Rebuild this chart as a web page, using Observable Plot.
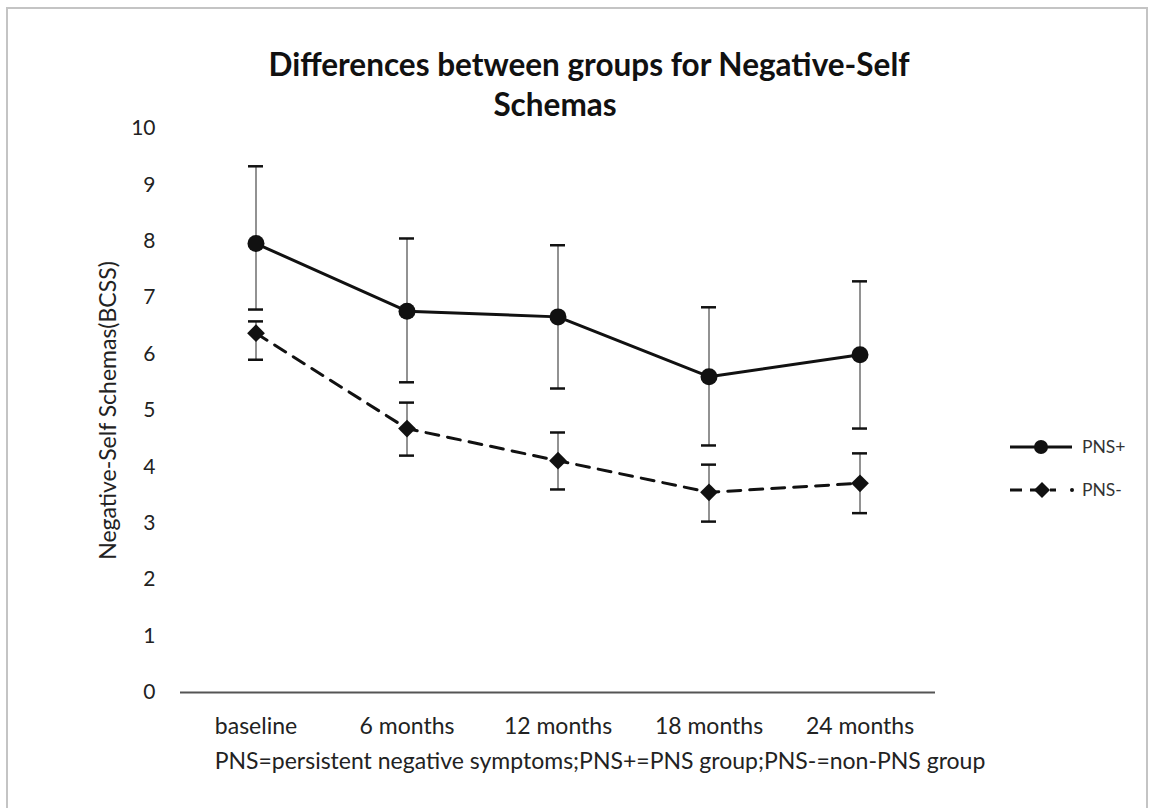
<!DOCTYPE html>
<html>
<head>
<meta charset="utf-8">
<script src="https://cdn.jsdelivr.net/npm/d3@7"></script>
<script src="https://cdn.jsdelivr.net/npm/@observablehq/plot@0.6"></script>
<style>
  html, body { margin: 0; padding: 0; background: #fff; }
  #frame { position: relative; width: 1153px; height: 808px; overflow: hidden; background: #fff; font-family: Lato, "Open Sans", sans-serif; color: #222; }
  #border { position: absolute; left: 6px; top: 7px; width: 1142px; height: 820px; border: 2px solid #c4c4c4; border-bottom: none; box-sizing: border-box; }
  #chart { position: absolute; left: 0; top: 0; }
  .title { position: absolute; font-weight: bold; font-size: 31.5px; white-space: nowrap; transform: translate(-50%, -50%); color: #111; }
  #caption { position: absolute; left: 600px; top: 760px; transform: translate(-50%, -50%); font-size: 23px; white-space: nowrap; color: #222; }
  #legend { position: absolute; left: 1008px; top: 425px; }
  #legend div { display: flex; align-items: center; height: 43px; font-size: 17.5px; color: #333; }
  #legend svg { margin-right: 6px; }
</style>
</head>
<body>
<div id="frame">
  <div id="border"></div>
  <div id="chart"></div>
  <div class="title" style="left:589px;top:64px">Differences between groups for Negative-Self</div>
  <div class="title" style="left:555px;top:104px">Schemas</div>
  <div id="caption">PNS=persistent negative symptoms;PNS+=PNS group;PNS-=non-PNS group</div>
  <div id="legend">
    <div><svg width="68" height="20"><line x1="2" y1="10" x2="64" y2="10" stroke="#111" stroke-width="3"/><circle cx="33" cy="10" r="7" fill="#111"/></svg>PNS+</div>
    <div><svg width="68" height="20"><line x1="2" y1="10" x2="48" y2="10" stroke="#111" stroke-width="3" stroke-dasharray="12,8"/><path d="M34 2 L42 10 L34 18 L26 10 Z" fill="#111"/><circle cx="64" cy="10" r="2" fill="#111"/></svg>PNS-</div>
  </div>
</div>
<script>
const timepoints = ["baseline", "6 months", "12 months", "18 months", "24 months"];
const pnsPlusMean = [7.96, 6.76, 6.66, 5.60, 5.99];
const pnsPlusLow  = [6.79, 5.50, 5.39, 4.38, 4.68];
const pnsPlusHigh = [9.33, 8.05, 7.93, 6.83, 7.29];
const pnsMinusMean = [6.37, 4.68, 4.11, 3.55, 3.71];
const pnsMinusLow  = [5.90, 4.20, 3.60, 3.03, 3.18];
const pnsMinusHigh = [6.58, 5.14, 4.61, 4.04, 4.24];
const yTicks = [0, 1, 2, 3, 4, 5, 6, 7, 8, 9, 10];

const plusData = timepoints.map((t, i) => ({t, mean: pnsPlusMean[i], low: pnsPlusLow[i], high: pnsPlusHigh[i]}));
const minusData = timepoints.map((t, i) => ({t, mean: pnsMinusMean[i], low: pnsMinusLow[i], high: pnsMinusHigh[i]}));
const allData = plusData.concat(minusData);

const capInset = 68;

const chart = Plot.plot({
  width: 1153,
  height: 808,
  marginLeft: 180,
  marginRight: 218,
  marginTop: 128,
  marginBottom: 116,
  style: { fontFamily: "Lato, 'Open Sans', sans-serif", fontSize: "20px", color: "#222", background: "transparent" },
  x: { type: "band", domain: timepoints, padding: 0, label: null },
  y: { domain: [0, 10], label: null },
  marks: [
    Plot.axisY({ ticks: yTicks, tickSize: 0, tickPadding: 25, fontSize: 21, label: null }),
    Plot.text(["Negative-Self Schemas(BCSS)"], { frameAnchor: "left", textAnchor: "middle", dx: -72, rotate: -90, fontSize: 23, fill: "#222" }),
    Plot.axisX({ tickSize: 0, tickPadding: 25, fontSize: 23, label: null }),
    Plot.ruleY([0], { stroke: "#555", strokeWidth: 2 }),
    Plot.ruleX(allData, { x: "t", y1: "low", y2: "high", stroke: "#777", strokeWidth: 1.6 }),
    Plot.tickY(allData, { x: "t", y: "low", stroke: "#111", strokeWidth: 2.5, insetLeft: capInset, insetRight: capInset }),
    Plot.tickY(allData, { x: "t", y: "high", stroke: "#111", strokeWidth: 2.5, insetLeft: capInset, insetRight: capInset }),
    Plot.line(plusData, { x: "t", y: "mean", stroke: "#111", strokeWidth: 3 }),
    Plot.line(minusData, { x: "t", y: "mean", stroke: "#111", strokeWidth: 3, strokeDasharray: "13,9" }),
    Plot.dot(plusData, { x: "t", y: "mean", r: 8.5, fill: "#111", symbol: "circle" }),
    Plot.dot(minusData, { x: "t", y: "mean", r: 8, fill: "#111", symbol: "diamond2" })
  ]
});
document.getElementById("chart").appendChild(chart);
</script>
</body>
</html>
